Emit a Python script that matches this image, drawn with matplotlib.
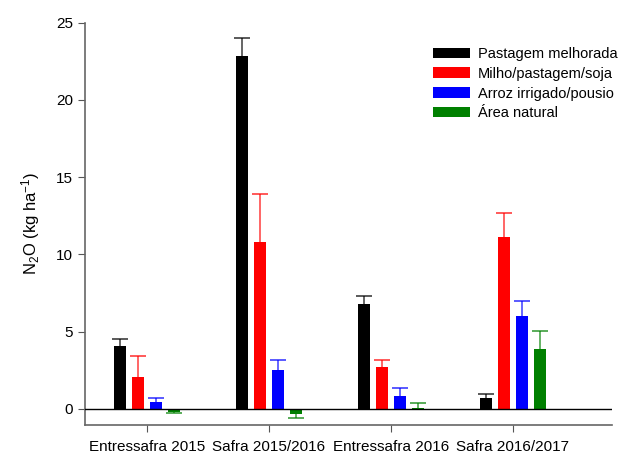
import numpy as np
import matplotlib
matplotlib.use('Agg')
import matplotlib.pyplot as plt

plt.rcParams['font.family'] = ['Liberation Sans', 'DejaVu Sans']
plt.rcParams['mathtext.fontset'] = 'custom'
plt.rcParams['mathtext.rm'] = 'Liberation Sans'
plt.rcParams['mathtext.it'] = 'Liberation Sans:italic'
plt.rcParams['mathtext.default'] = 'rm'

# ---------------------------------------------------------------------------
# Data
# ---------------------------------------------------------------------------
periods = ['Entressafra 2015', 'Safra 2015/2016', 'Entressafra 2016', 'Safra 2016/2017']
series = ['Pastagem melhorada', 'Milho/pastagem/soja', 'Arroz irrigado/pousio', 'Área natural']
colors = ['#000000', '#ff0000', '#0000ff', '#008000']

pastagem = [4.1, 22.85, 6.78, 0.73]
milho = [2.09, 10.79, 2.74, 11.13]
arroz = [0.47, 2.52, 0.84, 6.02]
natural = [-0.17, -0.34, 0.06, 3.86]

err_pastagem = [0.41, 1.15, 0.55, 0.26]
err_milho = [1.36, 3.1, 0.41, 1.56]
err_arroz = [0.26, 0.65, 0.5, 0.98]
err_natural = [0.11, 0.24, 0.31, 1.17]

values = [pastagem, milho, arroz, natural]
errors = [err_pastagem, err_milho, err_arroz, err_natural]

# ---------------------------------------------------------------------------
# Figure
# ---------------------------------------------------------------------------
fig = plt.figure(figsize=(6.25, 4.55), dpi=100)
ax = fig.add_axes([0.136, 0.066, 0.843, 0.884])

x = np.arange(len(periods))
width = 0.096
pitch = 0.148
offsets = (np.arange(len(series)) - 1.5) * pitch

for i, (vals, errs) in enumerate(zip(values, errors)):
    vals = np.array(vals)
    errs = np.array(errs)
    # one-sided error bars: up for positive, down for negative
    lower = np.where(vals < 0, errs, 0)
    upper = np.where(vals >= 0, errs, 0)
    ends = np.where(vals < 0, vals - errs, vals + errs)
    ax.bar(x + offsets[i], vals, width=width, color=colors[i],
           label=series[i], zorder=2)
    ax.errorbar(x + offsets[i], vals, yerr=[lower, upper], fmt='none',
                ecolor=colors[i], alpha=0.7, elinewidth=1.2, capsize=0,
                zorder=3)
    ax.plot(x + offsets[i], ends, linestyle='none', marker='_',
            markersize=12, markeredgewidth=1.3, color=colors[i], alpha=0.7,
            zorder=3)

ax.axhline(0, color='black', linewidth=1.0, zorder=4)

ax.set_xlim(-0.506, 3.81)
ax.set_ylim(-1.04, 25)
ax.set_yticks([0, 5, 10, 15, 20, 25])
ax.set_xticks(x)
ax.set_xticklabels(periods, fontsize=11)
ax.tick_params(axis='y', labelsize=11, direction='out', length=5, color='#555555')
ax.tick_params(axis='x', direction='out', length=5, color='#555555', pad=6)
ax.set_ylabel('N$_2$O (kg ha$^{-1}$)', fontsize=12, labelpad=10)

for side in ['top', 'right']:
    ax.spines[side].set_visible(False)
for side in ['left', 'bottom']:
    ax.spines[side].set_color('#666666')
    ax.spines[side].set_linewidth(1.2)

ax.legend(loc='upper left', bbox_to_anchor=(0.693, 0.897), bbox_transform=fig.transFigure,
          frameon=False, fontsize=10.5, handlelength=2.55, handleheight=0.72,
          handletextpad=0.5, labelspacing=0.4, borderaxespad=0, borderpad=0)

fig.savefig('out.png', dpi=100)
